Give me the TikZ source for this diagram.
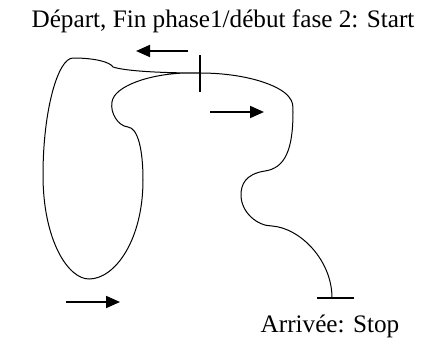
\documentclass[tikz,border=0pt]{standalone}
\usepackage{fontspec}
\setmainfont{Liberation Serif}
\usetikzlibrary{arrows.meta}
\begin{document}
\begin{tikzpicture}[x=1pt,y=-1pt,
  route/.style={line width=1pt,line join=round},
  tick/.style={line width=2.2pt},
  dirarrow/.style={line width=1.8pt,-{Triangle[length=14pt,width=12pt]}},
  lbl/.style={font=\fontsize{25.2}{30}\selectfont,inner sep=0pt}]
\useasboundingbox (0,0) rectangle (426,343);
% labels
\node[lbl,anchor=base] (start) at (223,27) {Départ, Fin phase1/début fase 2: Start};
\node[lbl,anchor=base] (stop) at (330,332) {Arrivée: Stop};
% key points
\coordinate (S) at (200,73);
\coordinate (E) at (332,298);
\coordinate (St) at (200,55);
\coordinate (Sb) at (200,92);
\coordinate (El) at (317,298);
\coordinate (Er) at (354,298);
% route
\draw[route] (S) .. controls (160,73) and (125,71) .. (113,67)
  .. controls (110,62) and (95,58) .. (73,58)
  .. controls (58,58) and (43,110) .. (43,175)
  .. controls (43,240) and (68,279) .. (89,279)
  .. controls (115,279) and (143,240) .. (143,180)
  .. controls (143,150) and (138,128) .. (128,127)
  .. controls (118,126) and (110,113) .. (112,102)
  .. controls (114,86) and (150,74) .. (185,73) -- (S)
  .. controls (245,73) and (280,85) .. (289,97)
  .. controls (293,102) and (293,105) .. (293,112)
  .. controls (293,150) and (285,168) .. (265,171)
  .. controls (245,174) and (241,185) .. (241,195)
  .. controls (241,212) and (257,226) .. (272,226)
  .. controls (300,228) and (332,260) .. (E);
% start tick and stop bar
\draw[tick] (St) -- (Sb);
\draw[tick,line width=2.8pt] (El) -- (Er);
% direction arrows
\coordinate (a1s) at (188,51); \coordinate (a1e) at (136,51);
\coordinate (a2s) at (210,112); \coordinate (a2e) at (264,112);
\coordinate (a3s) at (66,302); \coordinate (a3e) at (120,302);
\draw[dirarrow] (a1s) -- (a1e);
\draw[dirarrow] (a2s) -- (a2e);
\draw[dirarrow] (a3s) -- (a3e);
\end{tikzpicture}
\end{document}
